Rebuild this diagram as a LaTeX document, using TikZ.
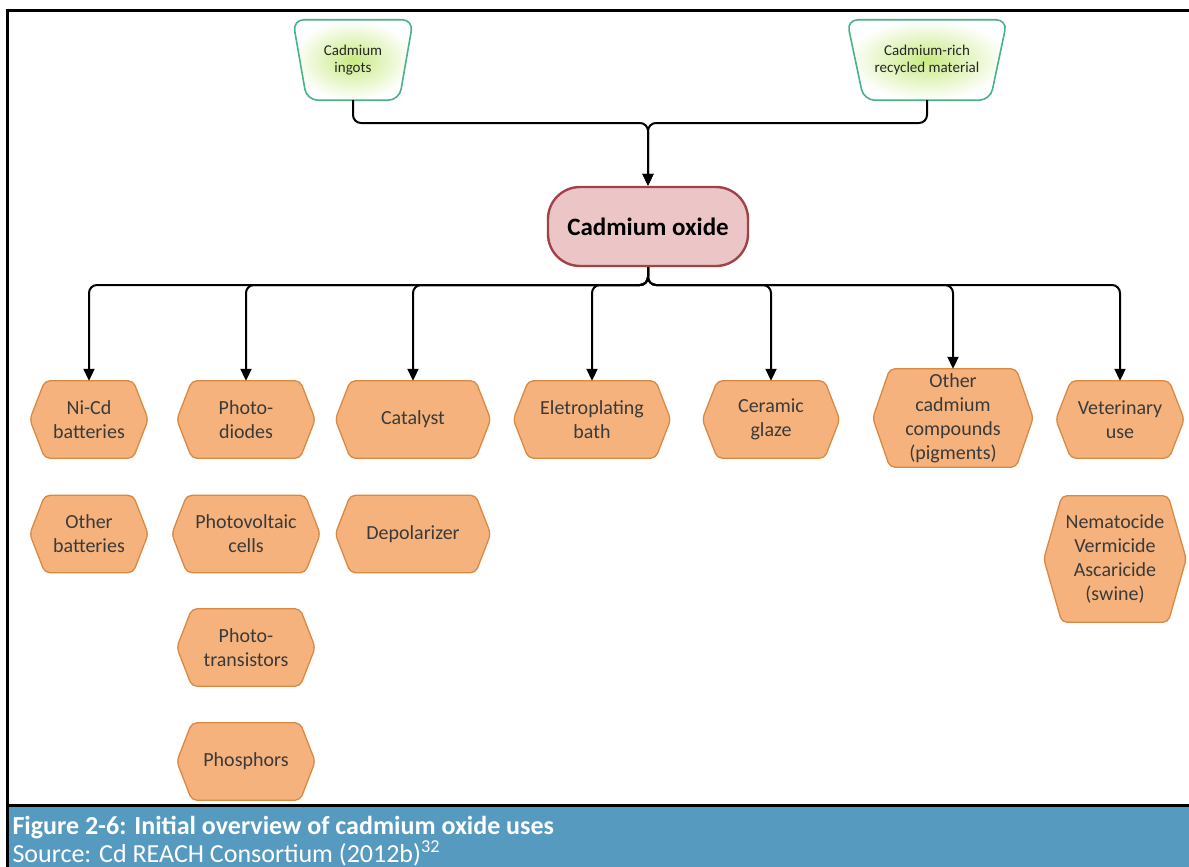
\documentclass[tikz,border=0pt]{standalone}
\usepackage{fontspec}
\setmainfont{Carlito}
\usetikzlibrary{arrows.meta,backgrounds,calc}

\definecolor{hexfill}{RGB}{246,178,124}
\definecolor{hexline}{RGB}{216,138,66}
\definecolor{hextext}{RGB}{58,58,58}
\definecolor{oxfill}{RGB}{236,198,198}
\definecolor{oxline}{RGB}{160,66,72}
\definecolor{srcline}{RGB}{72,178,138}
\definecolor{srcglow}{RGB}{200,234,130}
\definecolor{capblue}{RGB}{86,154,192}

\tikzset{
  usebox/.style={inner sep=0pt, align=center, text=hextext,
    font=\fontsize{20}{24}\selectfont, minimum height=77pt},
  srcbox/.style={inner sep=0pt, align=center, text=black!85,
    font=\fontsize{15}{17.5}\selectfont, minimum height=80pt},
  oxbox/.style={draw=oxline, fill=oxfill, line width=2.4pt, rounded corners=32pt,
    minimum width=200pt, minimum height=79pt, inner sep=0pt,
    font=\fontsize{25}{29}\selectfont\bfseries},
  conn/.style={line width=2pt, rounded corners=8pt, -{Triangle[length=12pt,width=11pt]}},
  frameline/.style={line width=3pt},
}

% hexagonal use box drawn behind a named node; #1 = side depth
\newcommand\hexbehind[2][15pt]{%
  \path[fill=hexfill, draw=hexline, line width=1.3pt, rounded corners=5pt]
    ([xshift=#1]#2.north west) -- ([xshift=-#1]#2.north east) -- (#2.east)
    -- ([xshift=-#1]#2.south east) -- ([xshift=#1]#2.south west) -- (#2.west) -- cycle;}

% trapezoid source box drawn behind a named node; #1 = bottom inset
\newcommand\trapbehind[2]{%
  \path[draw=srcline, line width=1.6pt, rounded corners=11pt,
        inner color=srcglow, outer color=white]
    (#2.north west) -- (#2.north east) -- ([xshift=-#1]#2.south east)
    -- ([xshift=#1]#2.south west) -- cycle;}

\begin{document}
\begin{tikzpicture}[x=1pt, y=-1pt]
\useasboundingbox (0,0) rectangle (1189,867);

% caption band and frame
\fill[capblue] (8,806) rectangle (1189,867);
\draw[frameline] (7,867) -- (7,11) -- (1189,11);
\draw[frameline] (7,805) -- (1189,805);
\node[anchor=base west, text=white, font=\fontsize{26}{30}\selectfont\bfseries] (cap)
  at (9,834) {Figure 2-6: Initial overview of cadmium oxide uses};
\node[anchor=base west, text=white, font=\fontsize{26}{30}\selectfont] (src)
  at (9,862) {Source: Cd REACH Consortium (2012b)\textsuperscript{32}};

% raw material sources
\node[srcbox, minimum width=120pt] (ing) at (353,60) {Cadmium\\ingots};
\node[srcbox, minimum width=160pt] (rec) at (927,60) {Cadmium-rich\\recycled material};

% central product
\node[oxbox] (ox) at (648,226.5) {Cadmium oxide};

% uses
\node[usebox, minimum width=118pt] (nicd)  at (89,419.5)  {Ni-Cd\\batteries};
\node[usebox, minimum width=118pt] (othb)  at (89,534)    {Other\\batteries};
\node[usebox, minimum width=138pt] (diod)  at (246,419.5) {Photo-\\diodes};
\node[usebox, minimum width=148pt] (pv)    at (246,534)   {Photovoltaic\\cells};
\node[usebox, minimum width=138pt] (trans) at (246,647.5) {Photo-\\transistors};
\node[usebox, minimum width=138pt] (phos)  at (246,761.5) {Phosphors};
\node[usebox, minimum width=155pt] (cat)   at (413,419.5) {Catalyst};
\node[usebox, minimum width=155pt] (depol) at (413,534)   {Depolarizer};
\node[usebox, minimum width=157pt] (elec)  at (592,419.5) {Eletroplating\\bath};
\node[usebox, minimum width=137pt] (glaze) at (771,419.5) {Ceramic\\glaze};
\node[usebox, minimum width=160pt, minimum height=98pt] (othcd) at (953,418)
  {Other\\cadmium\\compounds\\(pigments)};
\node[usebox, minimum width=128pt] (vet)   at (1120,419.5) {Veterinary\\use};
\node[usebox, minimum width=142pt, minimum height=126pt] (nema) at (1115,559)
  {Nematocide\\Vermicide\\Ascaricide\\(swine)};

\begin{scope}[on background layer]
  \trapbehind{14pt}{ing}
  \trapbehind{17pt}{rec}
  \foreach \n in {nicd,othb,diod,pv,trans,phos,cat,depol,elec,glaze,vet}{\hexbehind{\n}}
  \hexbehind[17pt]{othcd}
  \hexbehind[18pt]{nema}
\end{scope}

% connectors
\coordinate (jtop) at (648,123);
\coordinate (jbot) at (648,285);
\draw[conn] (ing.south) |- (jtop) -- (ox.north);
\draw[conn] (rec.south) |- (jtop) -- (ox.north);
\foreach \n in {nicd,diod,cat,elec,glaze,othcd,vet}{
  \draw[conn] (ox.south) -- (jbot) -| (\n.north);
}
\end{tikzpicture}
\end{document}
